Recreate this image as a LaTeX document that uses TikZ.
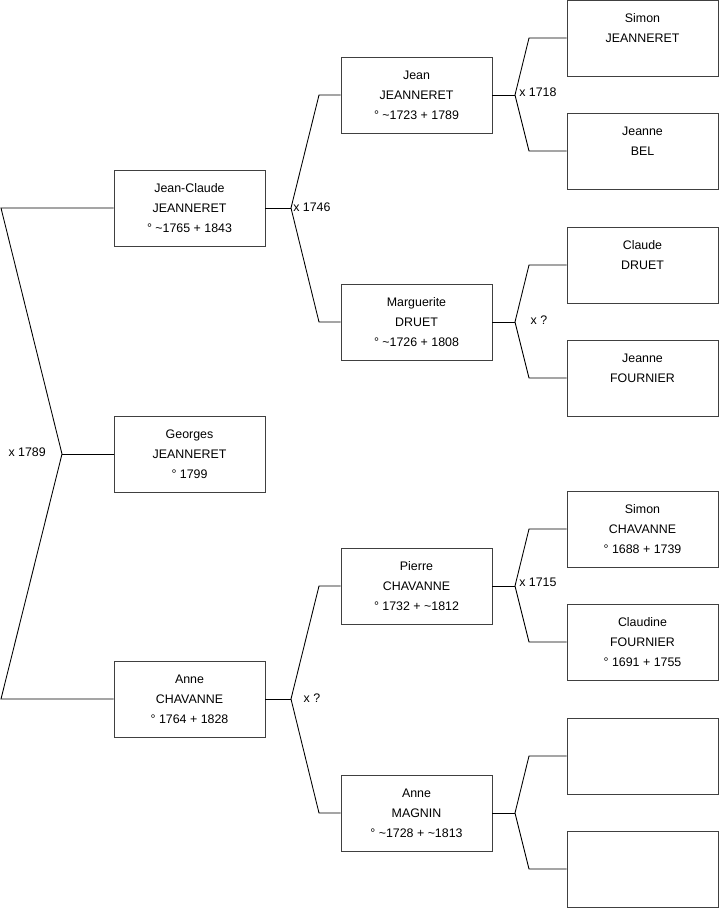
\documentclass[tikz,border=0pt]{standalone}
\usepackage{fontspec}
\setmainfont{Liberation Sans}
\usepackage{tikz}
\usetikzlibrary{positioning}

\begin{document}
\begin{tikzpicture}[
    x=0.75pt, y=-0.75pt,
    person/.style={draw=black!75, fill=white, minimum width=113.25pt, minimum height=57pt, inner sep=0pt, align=center, font=\fontsize{9.3}{15}\selectfont},
    link/.style={draw=black, line width=0.65pt},
    union/.style={font=\fontsize{9.3}{11}\selectfont, inner sep=0pt},
]
\useasboundingbox (0,0) rectangle (719,908);

% Generation 1
\node[person] (jc) at (189.5,208) {Jean-Claude\\JEANNERET\\° \textasciitilde1765 + 1843};
\node[person] (gj) at (189.5,454) {Georges\\JEANNERET\\° 1799};
\node[person] (ac) at (189.5,699) {Anne\\CHAVANNE\\° 1764 + 1828};

% Generation 2
\node[person] (jj) at (416.5,95) {Jean\\JEANNERET\\° \textasciitilde1723 + 1789};
\node[person] (md) at (416.5,322) {Marguerite\\DRUET\\° \textasciitilde1726 + 1808};
\node[person] (pc) at (416.5,586) {Pierre\\CHAVANNE\\° 1732 + \textasciitilde1812};
\node[person] (am) at (416.5,813) {Anne\\MAGNIN\\° \textasciitilde1728 + \textasciitilde1813};

% Generation 3
\node[person] (sj) at (642.5,38) {Simon\\JEANNERET\\\mbox{}};
\node[person] (jb) at (642.5,151) {Jeanne\\BEL\\\mbox{}};
\node[person] (cd) at (642.5,265) {Claude\\DRUET\\\mbox{}};
\node[person] (jf) at (642.5,378) {Jeanne\\FOURNIER\\\mbox{}};
\node[person] (sc) at (642.5,529) {Simon\\CHAVANNE\\° 1688 + 1739};
\node[person] (cf) at (642.5,642) {Claudine\\FOURNIER\\° 1691 + 1755};
\node[person] (e1) at (642.5,756) {};
\node[person] (e2) at (642.5,869) {};

% Left bracket (parents of Georges)
\coordinate (k0) at (62,454);
\coordinate (k0a) at (1,208);
\coordinate (k0b) at (1,699);
\draw[link] (jc.west) -- (k0a) -- (k0) -- (k0b) -- (ac.west);
\draw[link] (k0) -- (gj.west);
\node[union, anchor=east] (u0) at (46,452) {x 1789};

% Jean-Claude's parents
\coordinate (k1) at (291,208);
\draw[link] (jc.east) -- (k1);
\draw[link] (jj.west) -- (319,95) -- (k1) -- (319,322) -- (md.west);
\node[union, anchor=west] (u1) at (293,207) {x 1746};

% Anne's parents
\coordinate (k2) at (291,699);
\draw[link] (ac.east) -- (k2);
\draw[link] (pc.west) -- (319,586) -- (k2) -- (319,813) -- (am.west);
\node[union] (u2) at (312,698) {x ?};

% Jean's parents
\coordinate (k3) at (515,95);
\draw[link] (jj.east) -- (k3);
\draw[link] (sj.west) -- (529,38) -- (k3) -- (529,151) -- (jb.west);
\node[union, anchor=west] (u3) at (519,92) {x 1718};

% Marguerite's parents
\coordinate (k4) at (515,322);
\draw[link] (md.east) -- (k4);
\draw[link] (cd.west) -- (529,265) -- (k4) -- (529,378) -- (jf.west);
\node[union] (u4) at (539,320) {x ?};

% Pierre's parents
\coordinate (k5) at (515,586);
\draw[link] (pc.east) -- (k5);
\draw[link] (sc.west) -- (529,529) -- (k5) -- (529,642) -- (cf.west);
\node[union, anchor=west] (u5) at (519,582) {x 1715};

% Anne Magnin's parents
\coordinate (k6) at (515,813);
\draw[link] (am.east) -- (k6);
\draw[link] (e1.west) -- (529,756) -- (k6) -- (529,869) -- (e2.west);

\end{tikzpicture}
\end{document}
